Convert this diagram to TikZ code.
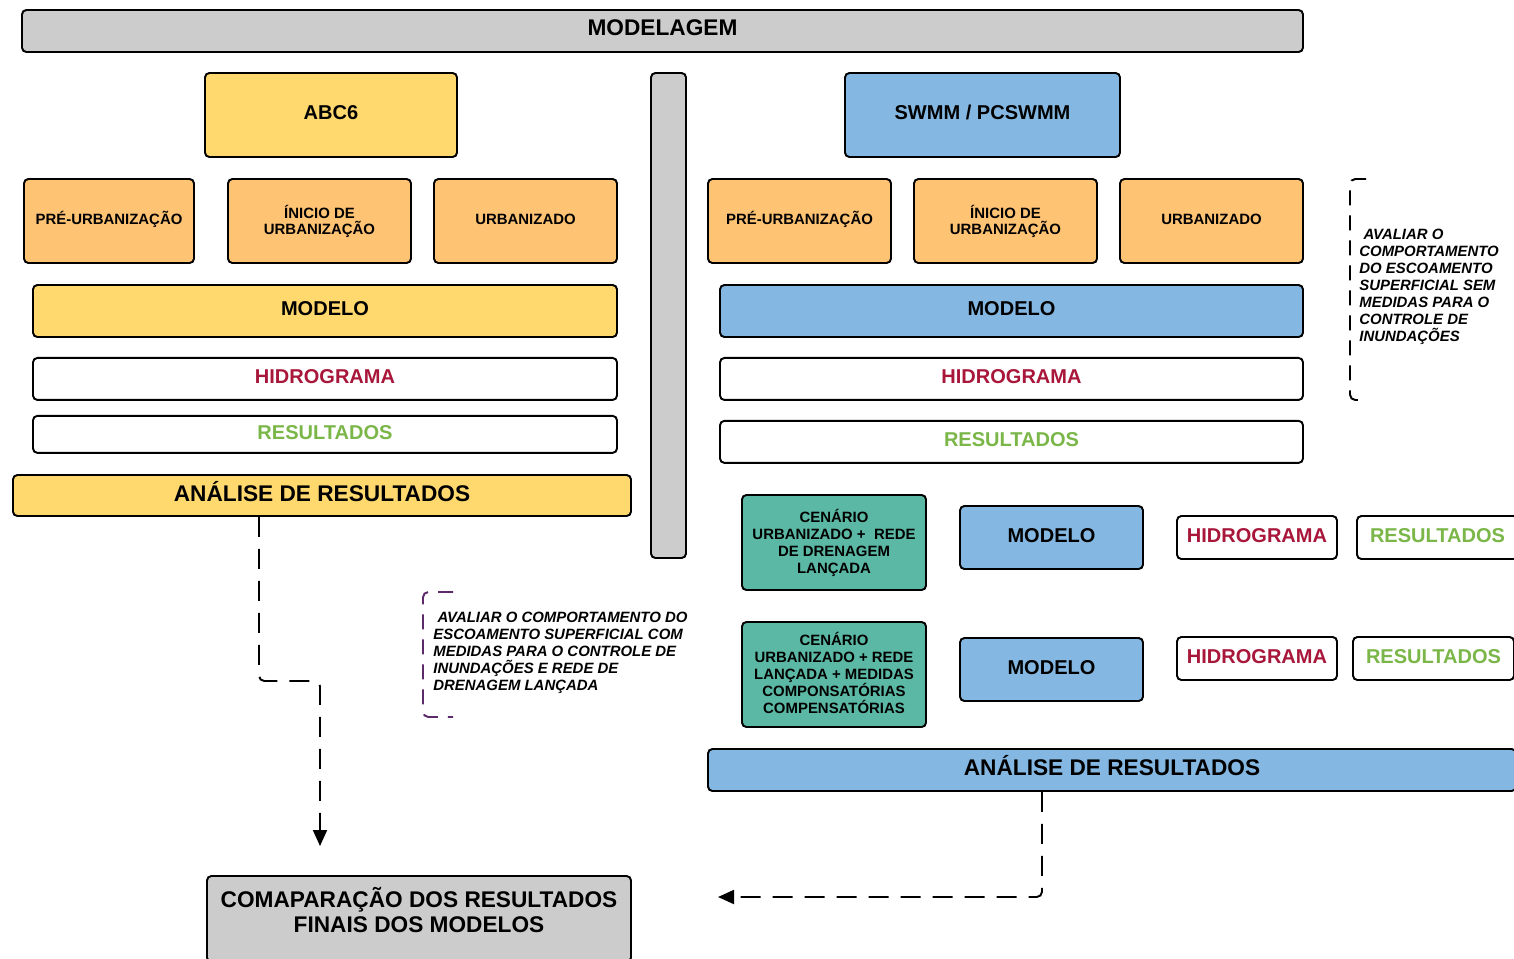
\documentclass[tikz,border=0pt]{standalone}
\usepackage{fontspec}
\setmainfont{Liberation Sans}
\usetikzlibrary{positioning, arrows.meta}

\definecolor{boxgrey}{HTML}{CCCCCC}
\definecolor{abcyellow}{HTML}{FFD96E}
\definecolor{stageorange}{HTML}{FFC374}
\definecolor{swmmblue}{HTML}{84B8E2}
\definecolor{scenteal}{HTML}{5BB8A4}
\definecolor{hydred}{HTML}{A8163A}
\definecolor{resgreen}{HTML}{7AB648}
\definecolor{notepurple}{HTML}{5C2A6B}

\begin{document}
\begin{tikzpicture}[
        x=0.02cm, y=-0.02cm,
        sz/.style 2 args={
            minimum width=#1*0.02cm,
            minimum height=#2*0.02cm
        },
        box/.style={
            rectangle,
            rounded corners=2.5pt,
            draw=black,
            line width=1.1pt,
            inner sep=0pt,
            align=center,
            text depth=2.6pt,
            font=\fontsize{11.4}{13}\selectfont\bfseries
        },
        greybox/.style={box, fill=boxgrey},
        yellowbox/.style={box, fill=abcyellow},
        bluebox/.style={box, fill=swmmblue},
        stagebox/.style={box, fill=stageorange, text depth=3.8pt, font=\fontsize{8.5}{9.1}\selectfont\bfseries},
        scenbox/.style={box, fill=scenteal, text depth=1.7pt, font=\fontsize{8.5}{9.7}\selectfont\bfseries},
        hydbox/.style={box, fill=white, text=hydred},
        resbox/.style={box, fill=white, text=resgreen},
        bigfont/.style={text depth=5pt, font=\fontsize{12.9}{14.2}\selectfont\bfseries},
        note/.style={
            anchor=west,
            align=left,
            inner sep=0pt,
            font=\fontsize{8.5}{9.7}\selectfont\bfseries\itshape
        },
        bracket/.style={
            line width=1.1pt,
            rounded corners=3pt,
            dash pattern=on 0.3cm off 0.2cm
        },
        flow/.style={
            line width=1.1pt,
            rounded corners=3pt,
            dash pattern=on 0.4cm off 0.24cm,
            -{Triangle[width=0.28cm, length=0.32cm]}
        }
    ]
    \useasboundingbox (0,0) rectangle (1514,958);
    \clip (0,0) rectangle (1514,958);

    % Header and divider
    \node[greybox, bigfont, text depth=4pt, sz={1281}{42}] (modelagem) at (662.5,31) {MODELAGEM};
    \node[greybox, sz={35}{485}] (divider) at (668.5,315.5) {};

    % ABC6 side
    \node[yellowbox, sz={252}{84}] (abc) at (331,115) {ABC6};
    \node[stagebox, sz={170}{84}] (preL) at (109,221) {PRÉ-URBANIZAÇÃO};
    \node[stagebox, text depth=1.8pt, sz={183}{84}] (iniL) at (319.5,221) {ÍNICIO DE\\URBANIZAÇÃO};
    \node[stagebox, text depth=2.2pt, sz={183}{84}] (urbL) at (525.5,221) {URBANIZADO};
    \node[yellowbox, sz={584}{52}] (modeloL) at (325,311) {MODELO};
    \node[hydbox, sz={584}{42}, below=0.38cm of modeloL] (hidroL) {HIDROGRAMA};
    \node[resbox, sz={584}{37}, below=0.28cm of hidroL] (resL) {RESULTADOS};
    \node[yellowbox, bigfont, sz={618}{41}] (analiseL) at (322,495.5) {ANÁLISE DE RESULTADOS};

    % SWMM side
    \node[bluebox, sz={275}{84}] (swmm) at (982.5,115) {SWMM / PCSWMM};
    \node[stagebox, sz={183}{84}] (preR) at (799.5,221) {PRÉ-URBANIZAÇÃO};
    \node[stagebox, text depth=1.8pt, sz={183}{84}] (iniR) at (1005.5,221) {ÍNICIO DE\\URBANIZAÇÃO};
    \node[stagebox, text depth=2.2pt, sz={183}{84}] (urbR) at (1211.5,221) {URBANIZADO};
    \node[bluebox, sz={583}{52}] (modeloR) at (1011.5,311) {MODELO};
    \node[hydbox, sz={583}{42}, below=0.38cm of modeloR] (hidroR) {HIDROGRAMA};
    \node[resbox, sz={583}{42}, below=0.38cm of hidroR] (resR) {RESULTADOS};

    % Scenarios
    \node[scenbox, sz={184}{95}] (cen1) at (834,542.5) {CENÁRIO\\URBANIZADO +~~REDE\\DE DRENAGEM\\LANÇADA};
    \node[bluebox, sz={183}{63}] (mod1) at (1051.5,537.5) {MODELO};
    \node[hydbox, sz={160}{43}] (hid1) at (1257,537.5) {HIDROGRAMA};
    \node[resbox, sz={161}{43}] (res1) at (1437.5,537.5) {RESULTADOS};

    \node[scenbox, sz={184}{105}] (cen2) at (834,674.5) {CENÁRIO\\URBANIZADO + REDE\\LANÇADA + MEDIDAS\\COMPONSATÓRIAS\\COMPENSATÓRIAS};
    \node[bluebox, sz={183}{63}] (mod2) at (1051.5,669.5) {MODELO};
    \node[hydbox, sz={160}{43}] (hid2) at (1257,658.5) {HIDROGRAMA};
    \node[resbox, sz={161}{43}] (res2) at (1433.5,658.5) {RESULTADOS};

    \node[bluebox, bigfont, sz={808}{42}] (analiseR) at (1112,770) {ANÁLISE DE RESULTADOS};

    % Comparison
    \node[greybox, bigfont, text depth=10pt, sz={424}{86}] (compare) at (419,919) {COMAPARAÇÃO DOS RESULTADOS\\FINAIS DOS MODELOS};

    % Notes
    \node[note] (noteR) at (1359,287) {~AVALIAR O\\COMPORTAMENTO\\DO ESCOAMENTO\\SUPERFICIAL SEM\\MEDIDAS PARA O\\CONTROLE DE\\INUNDAÇÕES};
    \draw[bracket] (1366,179) -- (1350,179) -- (1350,400) -- (1366,400);

    \node[note] (noteL) at (433,653) {~AVALIAR O COMPORTAMENTO DO\\ESCOAMENTO SUPERFICIAL COM\\MEDIDAS PARA O CONTROLE DE\\INUNDAÇÕES E REDE DE\\DRENAGEM LANÇADA};
    \draw[bracket, notepurple] (453,592) -- (423,592) -- (423,717) -- (453,717);

    % Flows to comparison
    \coordinate (cmpTop) at (320,846);
    \coordinate (cmpRight) at (718,897);
    \draw[flow] ([xshift=-1.26cm]analiseL.south) -- (259,681) -- (320,681) -- (cmpTop);
    \draw[flow] ([xshift=-1.4cm]analiseR.south) |- (cmpRight);

\end{tikzpicture}
\end{document}
